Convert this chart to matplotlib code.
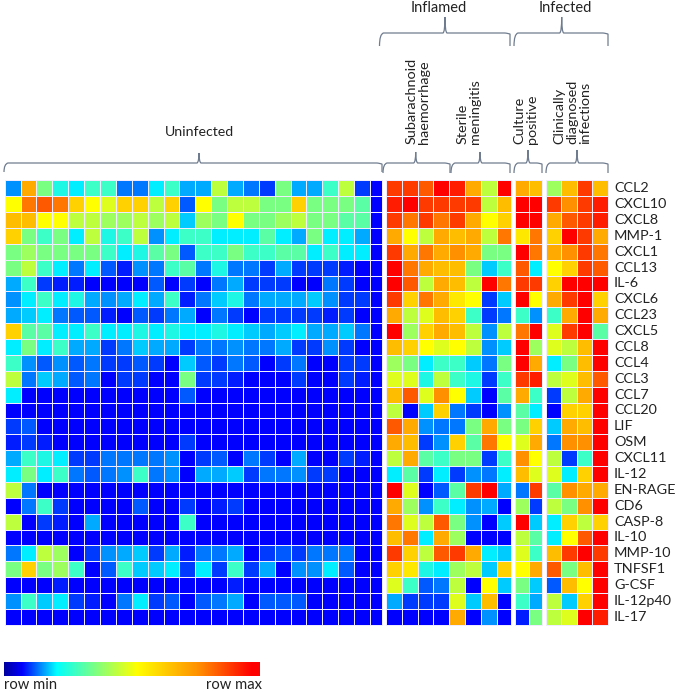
import matplotlib
matplotlib.use("Agg")
import matplotlib.pyplot as plt
import numpy as np
from matplotlib.colors import LinearSegmentedColormap
from matplotlib.path import Path
from matplotlib.patches import PathPatch

plt.rcParams['font.family'] = ['Lato', 'DejaVu Sans']

genes = ["CCL2", "CXCL10", "CXCL8", "MMP-1", "CXCL1", "CCL13", "IL-6", "CXCL6", "CCL23", "CXCL5",
         "CCL8", "CCL4", "CCL3", "CCL7", "CCL20", "LIF", "OSM", "CXCL11", "IL-12", "EN-RAGE",
         "CD6", "CASP-8", "IL-10", "MMP-10", "TNFSF1", "G-CSF", "IL-12p40", "IL-17"]

# levels read by eye: 0 blue, 4 cyan, 8 yellow, 13 red
uninfected = [
    [2.5, 10, 6, 4.5, 4, 5, 5, 2, 2, 4, 5, 3, 3, 7, 3, 2, 1, 6, 3, 3, 5, 7, 1, 0],
    [8, 11, 11.5, 11, 9, 8, 7.5, 9, 9, 7, 9, 1.5, 8, 6, 7, 7, 6, 6, 9, 6, 6, 6, 5.5, 0],
    [9.5, 9.5, 8, 8, 7, 7, 6.5, 6.5, 7, 6.5, 7, 3.5, 6.5, 6, 8, 6, 6, 6.5, 7, 6, 6, 5.5, 5.5, 0],
    [9, 6, 5, 6, 4, 7, 4.5, 5, 7, 2.5, 4, 5, 5, 4, 4, 4, 5.5, 4, 3, 6, 4, 4, 3, 0],
    [6, 6.5, 6, 6, 6, 6, 5, 4, 4.5, 5.5, 6, 1.5, 5, 5, 6, 5, 5, 5.5, 5.5, 4, 5, 4, 4, 0],
    [6, 7, 5, 4, 2, 4, 1.5, 0.5, 2.5, 2, 5, 5.5, 2, 4.5, 2, 2, 1, 3, 1, 1, 1, 0.5, 0, 0],
    [3, 5, 1, 0.5, 0.5, 0, 0, 0, 0, 1.5, 0, 1, 0, 2, 3, 1, 1, 1, 0, 0, 2, 1, 0, 0],
    [2.5, 4, 5, 4, 4.5, 3, 2.5, 3, 4, 3, 5, 0.5, 2, 3.5, 4.5, 2, 3, 3, 3, 3.5, 2.5, 1, 1, 0],
    [3, 3.5, 4, 2, 1.5, 1.5, 0.5, 0, 1.5, 1, 2, 3, 0, 2, 1, 0, 1, 1, 1, 1, 0.5, 1, 0, 0],
    [9, 5.5, 5.5, 4, 4, 5, 4, 4, 4.5, 4, 4.5, 4, 4, 4.5, 4, 3.5, 3, 3.5, 4, 3, 3, 3.5, 2, 0],
    [4, 6, 4, 5, 3, 3, 1, 2, 3.5, 3, 3, 1, 2, 2, 2.5, 2, 2, 3, 1, 1, 2.5, 1, 0, 0],
    [5, 2.5, 1.5, 2.5, 1.5, 2, 1, 1, 1.5, 1, 0, 3.5, 1.5, 1, 2, 1.5, 0, 1, 2, 0, 0, 1, 1, 0],
    [7, 2, 3.5, 3, 1.5, 2, 0, 1, 1, 0, 0, 6, 1, 1, 0.5, 0, 0, 0, 1, 0, 0, 1, 0.5, 0],
    [4, 0, 0, 0, 0, 0, 0, 0, 0, 0, 0, 1.5, 0, 0, 0, 0, 0, 0, 0, 0, 0, 0, 0, 0],
    [0, 0, 0, 0, 0, 0, 0, 0, 0, 0, 0, 0, 0, 0, 0, 0, 0, 0, 0, 0, 0, 0, 0, 0],
    [1, 1.5, 0, 0, 0, 0, 0, 0, 0, 0, 0, 0, 0, 0, 0, 0, 0, 0, 0, 0, 0, 0, 0, 0],
    [0.5, 1, 0.5, 0, 0, 0, 0, 0, 0, 0, 0, 1, 0, 0, 0, 0, 0, 0, 0, 0, 0, 0, 0, 0],
    [3, 5, 4.5, 4, 1, 1, 2, 2, 2, 2, 2.5, 0, 1, 1.5, 0, 2, 1, 0, 3, 0, 0, 1, 0.5, 0],
    [4, 6, 4, 5, 2, 1.5, 2, 2.5, 5, 2, 2.5, 0, 3, 3, 3.5, 1, 2, 2, 2.5, 1, 1, 0, 0, 0],
    [7, 2, 0, 0, 0, 0, 0, 0, 0, 0, 0, 0, 0, 0, 0, 0, 0, 0, 0, 0, 0, 0, 0, 0],
    [0, 2, 5, 1, 0, 0, 0, 0, 1.5, 0, 0, 1, 0, 0.5, 1, 0, 0, 0, 0, 0, 0, 0, 0, 0],
    [7, 0, 1, 0.5, 0, 3, 0, 0, 0, 0, 0, 5, 0, 0, 0, 0, 0, 0, 0, 0, 0, 0, 0, 0],
    [0, 0, 0, 0, 0, 0, 0, 0, 0, 0, 0, 0, 0, 0, 0, 0, 0, 0, 0, 0, 0, 0, 0, 0],
    [2, 4, 7, 6.5, 0, 1, 2.5, 3, 3.5, 1, 3, 0.5, 2, 2, 3, 0, 1, 1.5, 1, 2, 2, 2, 0, 0],
    [6, 9, 6, 6.5, 5, 0, 1.5, 5, 3.5, 3.5, 4, 1, 4, 1, 5, 1, 3, 0, 2.5, 2.5, 4, 1.5, 0, 0],
    [0, 0, 0, 0.5, 0, 0, 0, 0, 0, 0, 0, 0, 0, 0, 0.5, 0, 0, 0, 0, 0, 0, 0, 0, 0],
    [2.5, 5, 3.5, 4, 1, 0.5, 0, 2, 4, 1, 1.5, 0, 1.5, 2, 3, 0, 1.5, 1.5, 1.5, 0, 0, 0, 0, 0],
    [0, 0, 0, 0, 0, 0, 0, 0, 0, 0, 0, 0, 0, 0, 0, 0, 0, 0, 0, 0, 0, 0, 0, 0],
]

inflamed = [
    [12, 12, 11.5, 13, 12.5, 10, 7, 13],
    [12.5, 13, 12, 12, 12, 12, 7, 9.5],
    [12, 11, 12, 11, 12, 10, 8, 9],
    [10, 8, 7, 10, 9.5, 10, 7, 11],
    [12, 10, 11, 10, 10.5, 10, 6, 6],
    [13, 11, 10, 9.5, 9.5, 6, 3.5, 5],
    [13, 11.5, 7, 10, 9.5, 7, 13, 11],
    [12, 9, 11, 10, 8.5, 8, 1, 3.5],
    [10, 7, 7.5, 9.5, 9, 5, 1, 2],
    [13, 6.5, 9, 10, 9.5, 7, 2.5, 7],
    [9.5, 9, 8, 7.5, 8, 7, 2.5, 3.5],
    [6.5, 6, 4, 5, 5, 3.5, 2, 6],
    [7.5, 7.5, 4.5, 7, 5, 4.5, 1, 5],
    [9.5, 11.5, 7.5, 10.5, 8, 3.5, 0, 5.5],
    [7, 0, 3.5, 9, 2, 1, 0, 2.5],
    [11.5, 10, 2.5, 2, 2, 6, 10, 6],
    [10, 9.5, 1, 2.5, 9, 5.5, 11, 8],
    [7, 10, 5.5, 5, 6, 6, 1, 5],
    [4, 5.5, 1, 4, 1, 2.5, 2, 4],
    [13, 7.5, 0, 1.5, 5.5, 12, 13, 3],
    [10, 6.5, 2.5, 5, 4, 2.5, 3, 0],
    [11, 7.5, 7, 11.5, 6, 2.5, 0, 3.5],
    [9.5, 11, 4, 10, 6.5, 0, 0, 0],
    [12, 9, 7, 11.5, 12, 10, 4, 3.5],
    [9, 8.5, 4.5, 4, 6.5, 7, 3.5, 9],
    [7.5, 5, 1.5, 2, 7, 0, 8, 3.5],
    [3, 1, 1, 1, 7.5, 3.5, 9.5, 0],
    [0, 0, 0, 0, 10, 0, 2.5, 0],
]

culture_positive = [
    [10, 9.5], [13, 13], [13, 13], [8.5, 11], [13, 11], [11.5, 4], [12, 12], [13, 8],
    [5, 2.5], [11, 13], [13, 6.5], [13, 10], [12, 12.5], [10, 5], [5.5, 4], [6, 9],
    [7.5, 10], [10.5, 8], [9.5, 7.5], [2, 12], [6.5, 1], [13, 3.5], [7, 5.5], [7.5, 5],
    [8, 10], [6, 3.5], [5, 3], [0.5, 6],
]

clinically_diagnosed = [
    [6.5, 9.5, 12, 9.5],
    [12, 10.5, 12, 12.5],
    [10, 11.5, 12, 12.5],
    [9, 13, 12, 10],
    [10, 10.5, 12, 11],
    [8, 9, 12, 11.5],
    [9, 13, 13, 13],
    [10, 12, 13, 9],
    [5, 10, 13, 10],
    [7.5, 12, 13, 5.5],
    [7.5, 7, 9.5, 13],
    [4, 6, 9.5, 13],
    [7, 7.5, 9.5, 11.5],
    [1, 7, 10, 13],
    [0, 9, 9, 13],
    [3.5, 10, 9.5, 13],
    [2, 10.5, 10.5, 13],
    [7, 1, 5, 13],
    [7.5, 4, 9, 13],
    [5.5, 10.5, 10, 10],
    [7, 6, 10.5, 13],
    [4, 9, 7, 9],
    [4, 8, 11.5, 13],
    [9.5, 12, 13, 12],
    [11.5, 6, 9.5, 13],
    [1.5, 9.5, 8, 13],
    [7, 3.5, 9, 13],
    [7, 7.5, 13, 12.5],
]

level_colors = ["#0000ff", "#003cff", "#0078ff", "#00aaff", "#00f0ff", "#3cffc8", "#78ff82",
                "#beff3c", "#ffff00", "#ffd200", "#ffaa00", "#ff7800", "#ff3c00", "#ff0000"]
level_cmap = LinearSegmentedColormap.from_list("levels", level_colors)
bar_cmap = LinearSegmentedColormap.from_list(
    "bar", [(0, "#0000a0"), (0.07, "#0000ff"), (0.205, "#00ffff"), (0.36, "#80ff80"),
            (0.52, "#ffff00"), (0.76, "#ff9000"), (0.97, "#ff0000"), (1, "#ff0000")])

fig = plt.figure(figsize=(6.84, 6.92), dpi=100)
ax = fig.add_axes([0, 0, 1, 1])
ax.set_xlim(0, 684)
ax.set_ylim(692, 0)
ax.axis("off")

# cell edges in picture pixels
row_edges = np.linspace(180.3, 624.8, len(genes) + 1)
uninfected_edges = list(4.7 + 15.88 * np.arange(24)) + [381.7]
inflamed_edges = list(386 + 15.8 * np.arange(8)) + [511]
culture_edges = [515, 529, 542.3]
clinical_edges = [546.3, 561, 576.7, 592.3, 608]

groups = [(uninfected, uninfected_edges), (inflamed, inflamed_edges),
          (culture_positive, culture_edges), (clinically_diagnosed, clinical_edges)]
for values, col_edges in groups:
    ax.pcolormesh(col_edges, row_edges, np.array(values), cmap=level_cmap, vmin=0, vmax=13,
                  edgecolors="#f0ecff", linewidth=0.45)

for gene, y0, y1 in zip(genes, row_edges[:-1], row_edges[1:]):
    ax.text(614, (y0 + y1) / 2, gene, fontsize=10.4, color="#222222", ha="left", va="center")


def curly(x0, x1, tip, y_mid, y_end, y_tip):
    # brace that opens downwards, thin grey-blue stroke
    verts = [(x0, y_end), (x0, y_mid + 1), (x0 + 4, y_mid), (x0 + 5, y_mid),
             (tip - 2, y_mid), (tip, y_mid - 1), (tip, y_tip),
             (tip, y_mid - 1), (tip + 2, y_mid), (x1 - 5, y_mid),
             (x1 - 4, y_mid), (x1, y_mid + 1), (x1, y_end)]
    codes = [Path.MOVETO, Path.CURVE3, Path.CURVE3, Path.LINETO,
             Path.LINETO, Path.CURVE3, Path.CURVE3,
             Path.CURVE3, Path.CURVE3, Path.LINETO,
             Path.CURVE3, Path.CURVE3, Path.LINETO]
    ax.add_patch(PathPatch(Path(verts, codes), fill=False, edgecolor="#6f7c8f", linewidth=0.9))


curly(4, 382, 199, 163, 172, 153)
curly(383, 450, 415.7, 163, 173, 152)
curly(451, 510, 480, 163, 173, 152)
curly(514, 542, 528, 163, 173, 150)
curly(546, 608, 577, 163, 173, 150)
curly(379.5, 510, 445, 33, 46, 17)
curly(514, 608, 561.7, 33, 46, 17)

ax.text(199, 132, "Uninfected", fontsize=10.2, color="#222222", ha="center", va="center")
ax.text(438.7, 8, "Inflamed", fontsize=10.5, color="#222222", ha="center", va="center")
ax.text(565, 8, "Infected", fontsize=10.5, color="#222222", ha="center", va="center")

for x, label in [(417.5, "Subarachnoid\nhaemorrhage"), (468.7, "Sterile\nmeningitis"),
                 (526, "Culture\npositive"), (572.5, "Clinically\ndiagnosed\ninfections")]:
    ax.text(x, 144, label, fontsize=10.4, color="#222222", rotation=90, ha="center", va="bottom",
            multialignment="left", linespacing=1.08)

gradient = np.linspace(0, 1, 256).reshape(1, -1)
ax.imshow(gradient, cmap=bar_cmap, extent=[4, 260, 676, 662], aspect="auto", zorder=2)
ax.set_xlim(0, 684)
ax.set_ylim(692, 0)
ax.text(4, 685, "row min", fontsize=10.6, color="#222222", ha="left", va="center")
ax.text(262, 685, "row max", fontsize=10.6, color="#222222", ha="right", va="center")

plt.savefig("out.png", dpi=100)
